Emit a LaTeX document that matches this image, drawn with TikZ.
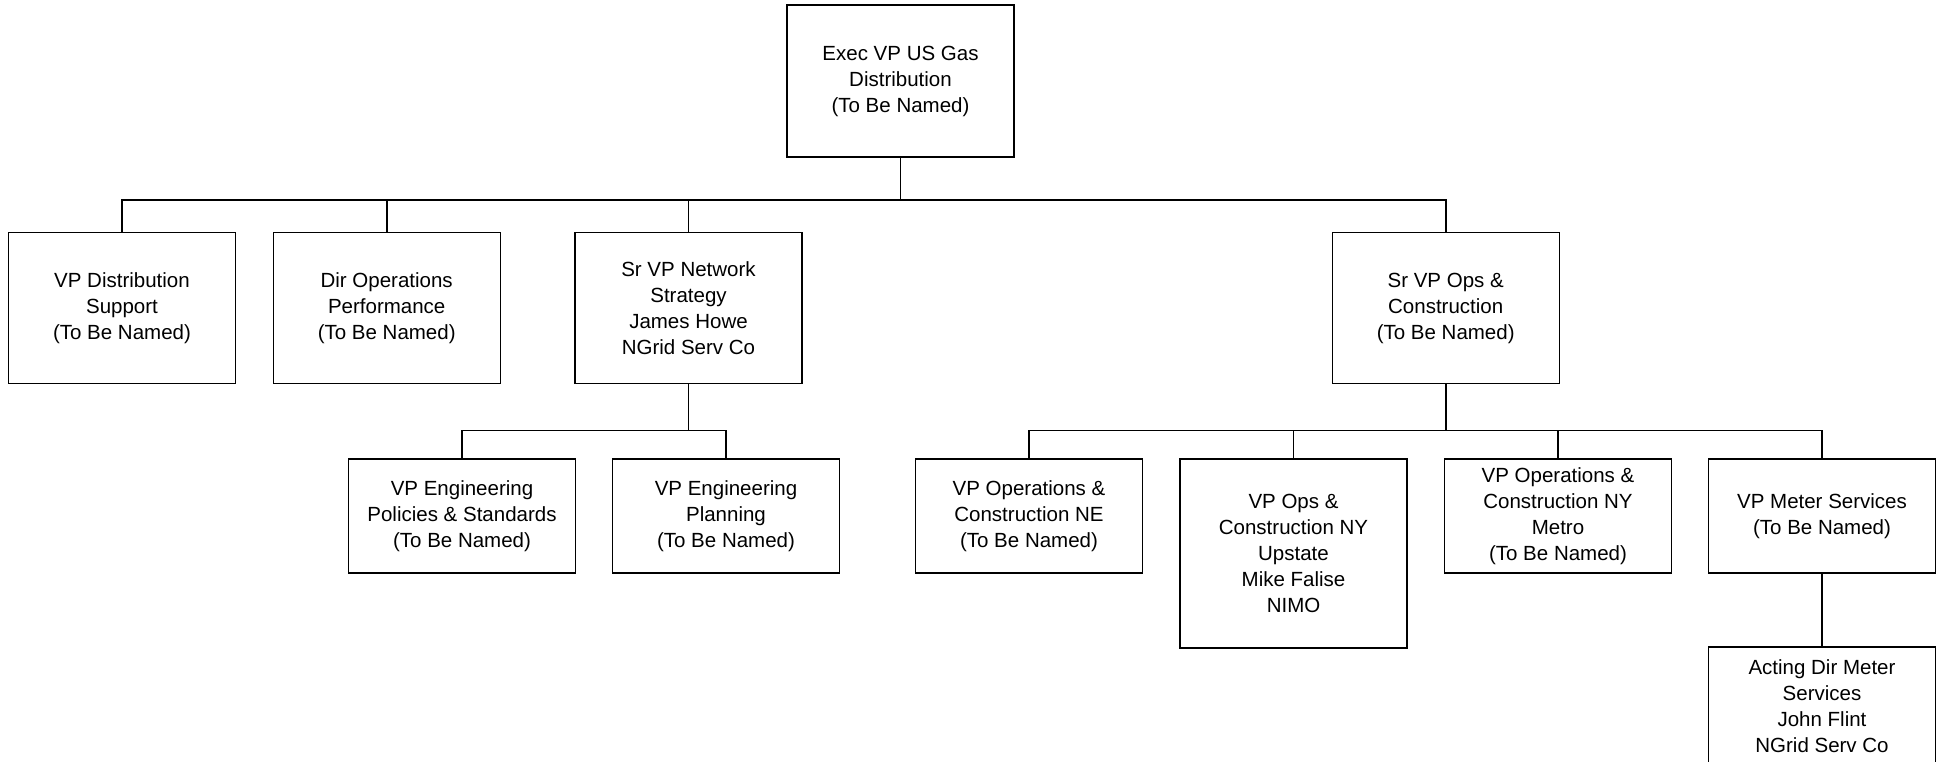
\documentclass[tikz,border=0pt]{standalone}
\usepackage{fontspec}
\setmainfont{Liberation Sans}
\begin{document}
\begin{tikzpicture}[x=1pt,y=1pt,
  box/.style={draw=black,line width=1.4pt,fill=white,rectangle,inner sep=0pt,
    minimum width=227pt,align=center,font=\fontsize{20.5}{26}\selectfont},
  conn/.style={draw=black,line width=1.6pt}]
\useasboundingbox (0,0) rectangle (1940,-761);
\node[box,minimum height=152pt] (top) at (900.5,-81) {Exec VP US Gas\\Distribution\\(To Be Named)};
\node[box,minimum height=151pt] (b1) at (122,-308) {VP Distribution\\Support\\(To Be Named)};
\node[box,minimum height=151pt] (b2) at (386.7,-308) {Dir Operations\\Performance\\(To Be Named)};
\node[box,minimum height=151pt] (b3) at (688.5,-308) {Sr VP Network\\Strategy\\James Howe\\NGrid Serv Co};
\node[box,minimum height=151pt] (b4) at (1445.7,-308) {Sr VP Ops \&\\Construction\\(To Be Named)};
\node[box,minimum height=114pt] (b5) at (462,-516) {VP Engineering\\Policies \& Standards\\(To Be Named)};
\node[box,minimum height=114pt] (b6) at (726,-516) {VP Engineering\\Planning\\(To Be Named)};
\node[box,minimum height=114pt] (b7) at (1029,-516) {VP Operations \&\\Construction NE\\(To Be Named)};
\node[box,minimum height=189pt] (b8) at (1293.5,-553.5) {VP Ops \&\\Construction NY\\Upstate\\Mike Falise\\NIMO};
\node[box,minimum height=114pt] (b9) at (1558,-516) {VP Operations \&\\Construction NY\\Metro\\(To Be Named)};
\node[box,minimum height=114pt] (b10) at (1822,-516) {VP Meter Services\\(To Be Named)};
\node[box,minimum height=118pt] (b11) at (1822,-706) {Acting Dir Meter\\Services\\John Flint\\NGrid Serv Co};
\coordinate (bus1) at (900.5,-200);
\coordinate (bus2) at (688.5,-430.5);
\coordinate (bus3) at (1445.7,-430.5);
\draw[conn] (top.south) -- (bus1);
\draw[conn] (bus1) -| (b1.north);
\draw[conn] (bus1) -| (b2.north);
\draw[conn] (bus1) -| (b3.north);
\draw[conn] (bus1) -| (b4.north);
\draw[conn] (b3.south) -- (bus2);
\draw[conn] (bus2) -| (b5.north);
\draw[conn] (bus2) -| (b6.north);
\draw[conn] (b4.south) -- (bus3);
\draw[conn] (bus3) -| (b7.north);
\draw[conn] (bus3) -| (b8.north);
\draw[conn] (bus3) -| (b9.north);
\draw[conn] (bus3) -| (b10.north);
\draw[conn] (b10.south) -- (b11.north);
\end{tikzpicture}
\end{document}
